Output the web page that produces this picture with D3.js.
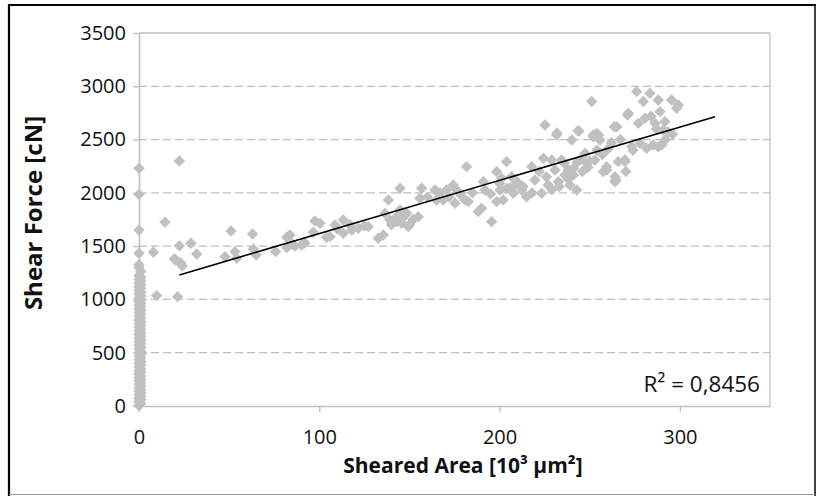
<!DOCTYPE html>
<html><head><meta charset="utf-8">
<script src="https://cdn.jsdelivr.net/npm/d3@7"></script>
<style>body{margin:0;background:#fff;} svg{display:block;}</style>
</head><body><svg id="c" width="820" height="496"></svg>
<script>
// ---- data ----
// specimens with (near) zero sheared area
const zeroArea = [0,1,0,1,0,1,0,1,0,1,
                  0,1,0,1,0,1,0,1,0,1,
                  0,1,0,1,0,1,0,1,0,1,
                  0,1,0,1,0,1,0,1,0,1,
                  0,1,0,1,0,1,0,1,0,1,
                  0,1,0,1,0,1,0,1,0,1,
                  0,1,0,1,0,1,0,1,0,1,
                  0,1,0,1,0,0,0,0,0,0];
const zeroForce = [5,22,40,58,70,88,105,120,138,152,
                   170,185,203,220,236,248,265,282,300,318,
                   330,347,365,384,400,418,433,450,468,485,
                   500,517,535,552,570,588,603,620,636,655,
                   672,690,706,722,740,757,775,790,808,826,
                   842,860,878,895,910,928,945,963,980,998,
                   1015,1032,1050,1068,1085,1102,1120,1138,1155,1172,
                   1190,1208,1225,1262,1300,1325,1433,1651,1986,2230];
const shearedArea = [8,9.8,14.4,19.6,20.5,23,21.4,22.4,22.4,24,28.8,32,47.7,51,53.2,54.2,63,63.4,65,75.8,81.9,83.7,82,86.5,90.2,97.6,96.7,104,100.4,106,108.7,113.3,113.3,117,121.6,127.2,132.7,135.5,136.4,138.3,139.2,142.9,144.8,144.8,145.7,149.4,148.5,154.9,155.8,156.8,164.2,165.1,168.8,170.6,174.3,175.3,176.2,181.7,180.8,182.6,188.2,190,191,191.9,195.6,198.4,198.4,201.2,203.9,203.9,206.7,207.6,200.2,202,205.8,208.5,212.3,215,217.8,219.6,224.3,223.3,225.2,227,228.9,230.7,231.7,232.6,234.4,236.3,238.1,240,239,240.9,242.8,244,244.6,247.4,248.3,251.1,252,252.9,253.9,255.7,257.5,259.4,264,265,265.8,264,269.5,271.4,273.3,276,277,279.7,280.7,281.6,283.4,285.2,286.2,288,289,289.9,290.8,291.7,293.5,295.4,298.2,299.1,85,92,110,118,125,140,143,146,150,152,160,167,172,178,185,195,200,210,213,218,222,226,229,233,236,238,241,243,246,249,250,254,257,260,262,267,270,274,278,288,292,296,284,287,263.7,252,255,243.5,231.8,271,259.4,269.5,264.6];
const shearForce = [1443,1036,1724,1379,1370,1345,1026,2299,1504,1314,1527,1426,1401,1642,1448,1386,1614,1473,1417,1449,1583,1605,1486,1501,1511,1736,1630,1583,1714,1589,1698,1745,1620,1698,1667,1683,1574,1605,1808,1933,1745,1776,2043,1839,1714,1683,1808,1776,1949,2043,2027,1933,1933,2027,2074,1902,2027,2246,1933,1918,1824,1855,2105,2027,1730,2199,1918,2136,2293,2043,2152,1996,2027,1933,2043,2074,2027,1964,2246,2121,2324,1996,2637,2074,2308,2214,2543,2105,2308,2167,2214,2496,2074,2167,2027,2580,2308,2371,2277,2857,2527,2308,2558,2496,2199,2214,2152,2621,2293,2105,2308,2746,2434,2950,2652,2857,2699,2418,2934,2449,2652,2871,2762,2449,2590,2668,2574,2871,2793,2824,1520,1530,1660,1650,1690,1700,1730,1760,1700,1750,1960,2000,1960,1990,2000,1990,2090,2100,2060,2000,2200,2150,2030,2060,2280,2130,2230,2290,2200,2240,2300,2400,2360,2410,2470,2500,2200,2400,2465,2433,2500,2550,2720,2600,2621,2543,2543,2583,2562,2730,2246,2293,2121];
const trendArea = [22.4, 319.5];
const trendForce = [1230, 2715];
const xTicks = [0, 100, 200, 300];
const yTicks = [0, 500, 1000, 1500, 2000, 2500, 3000, 3500];
const r2Text = "R\u00B2 = 0,8456";
const xTitle = "Sheared Area [10\u00B3 \u00B5m\u00B2]";
const yTitle = "Shear Force [cN]";

// ---- drawing ----
const svg = d3.select("#c");
const font = "'Open Sans', 'Noto Sans', sans-serif";
const grey = "#bfbfbf";
const x = d3.scaleLinear().domain([0, 350]).range([139, 770]);
const y = d3.scaleLinear().domain([0, 3500]).range([406, 33]);

// outer frame
svg.append("line").attr("x1",9).attr("x2",9).attr("y1",4).attr("y2",496).attr("stroke","#000").attr("stroke-width",2.2);
svg.append("line").attr("x1",8).attr("x2",816).attr("y1",5).attr("y2",5).attr("stroke","#000").attr("stroke-width",2.2);
svg.append("line").attr("x1",815).attr("x2",815).attr("y1",4).attr("y2",496).attr("stroke","#000").attr("stroke-width",1.5);
svg.append("line").attr("x1",9).attr("x2",815).attr("y1",494.5).attr("y2",494.5).attr("stroke","#999").attr("stroke-width",1.2);

// gridlines
svg.append("g").selectAll("line").data(yTicks.filter(d => d > 0 && d < 3500)).join("line")
  .attr("x1", x(0)).attr("x2", x(350)).attr("y1", d => y(d)).attr("y2", d => y(d))
  .attr("stroke", grey).attr("stroke-width", 1.3).attr("stroke-dasharray", "8,4");
// plot border top & right
svg.append("line").attr("x1", x(0)).attr("x2", x(350)).attr("y1", y(3500)).attr("y2", y(3500)).attr("stroke", grey).attr("stroke-width", 1.3);
svg.append("line").attr("x1", x(350)).attr("x2", x(350)).attr("y1", y(3500)).attr("y2", y(0)).attr("stroke", grey).attr("stroke-width", 1.3);

// axes
const yAxis = svg.append("g").attr("transform", `translate(${x(0)},0)`)
  .call(d3.axisLeft(y).tickValues(yTicks).tickFormat(d3.format("d")).tickSize(6).tickPadding(7).tickSizeOuter(0));
const xAxis = svg.append("g").attr("transform", `translate(0,${y(0)})`)
  .call(d3.axisBottom(x).tickValues(xTicks).tickFormat(d3.format("d")).tickSize(6).tickPadding(18).tickSizeOuter(0));
[yAxis, xAxis].forEach(g => {
  g.select(".domain").attr("stroke", grey).attr("stroke-width", 1.6);
  g.selectAll(".tick line").attr("stroke", grey).attr("stroke-width", 1.3);
  g.selectAll(".tick text").attr("fill", "#111").style("font-family", font).style("font-size", "20px");
});

// points
const diamond = "M0,-5.7L5.7,0L0,5.7L-5.7,0Z";
const pts = zeroArea.map((a, i) => [a, zeroForce[i]]).concat(shearedArea.map((a, i) => [a, shearForce[i]]));
svg.append("g").selectAll("path").data(pts).join("path")
  .attr("d", diamond).attr("transform", d => `translate(${x(d[0])},${y(d[1])})`)
  .attr("fill", "#c0c0c0");

// trendline
svg.append("line")
  .attr("x1", x(trendArea[0])).attr("y1", y(trendForce[0]))
  .attr("x2", x(trendArea[1])).attr("y2", y(trendForce[1]))
  .attr("stroke", "#000").attr("stroke-width", 1.6);

// R2 label
svg.append("text").attr("x", 760).attr("y", 392).attr("text-anchor", "end")
  .style("font-family", font).style("font-size", "22.5px").attr("fill", "#111").text(r2Text);

// titles
svg.append("text").attr("x", 463).attr("y", 473).attr("text-anchor", "middle")
  .style("font-family", font).style("font-size", "21px").style("font-weight", "bold").attr("fill", "#111").text(xTitle);
svg.append("text").attr("transform", "translate(42,213) rotate(-90)").attr("text-anchor", "middle")
  .style("font-family", font).style("font-size", "24px").style("font-weight", "bold").attr("fill", "#111").text(yTitle);
</script>
</body></html>
